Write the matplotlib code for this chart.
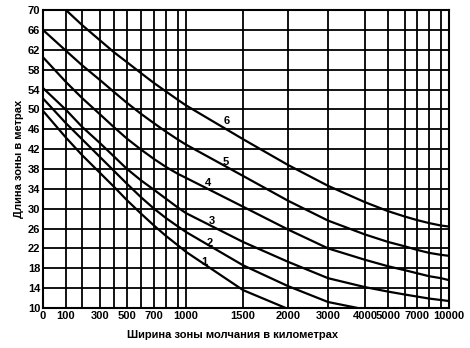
"""
Длина зоны в зависимости от ширины зоны молчания (кривые 1-6).
Неравномерная шкала по оси X как на исходном графике.
"""

import numpy as np
import matplotlib
matplotlib.use("Agg")
import matplotlib.pyplot as plt

plt.rcParams.update({
    "font.family": ["Liberation Sans", "DejaVu Sans"],
    "font.size": 8,
    "font.weight": "bold",
})

# grid values on the x axis (km) and where the original sheet puts them
X_GRID = [0, 100, 200, 300, 400, 500, 600, 700, 800, 900, 1000,
          1500, 2000, 3000, 4000, 5000, 6000, 7000, 8000, 9000, 10000]
X_GRID_POS = [0, 23, 39, 57, 71, 84, 98, 111, 123, 135, 143,
              200, 245, 285, 322, 345, 362, 374, 386, 398, 406]
X_TICKS = [0, 100, 300, 500, 700, 1000, 1500, 2000, 3000, 4000, 5000, 7000, 10000]
Y_TICKS = list(range(10, 71, 4))

# curve readings (km, metres)
km_6 = [100, 200, 300, 400, 500, 600, 700, 800, 900, 1000,
        1500, 2000, 3000, 4000, 5000, 6000, 7000, 8000, 9000, 10000]
len_6 = [70, 67.0, 63.9, 61.5, 59.5, 57.3, 55.3, 53.6, 51.9, 50.8,
         44.0, 38.8, 34.6, 31.3, 29.5, 28.4, 27.7, 27.1, 26.6, 26.4]

km_5 = X_GRID
len_5 = [66, 61.8, 58.9, 55.9, 53.5, 51.3, 49.1, 47.2, 45.5, 43.9, 42.9,
         36.6, 31.6, 27.6, 24.8, 23.3, 22.4, 21.7, 21.1, 20.7, 20.5]

km_4 = X_GRID
len_4 = [60.5, 55.5, 52.3, 49.0, 46.4, 44.1, 41.9, 40.0, 38.4, 37.0, 36.2,
         30.4, 25.8, 22.0, 19.7, 18.4, 17.6, 17.0, 16.4, 16.0, 15.6]

km_3 = X_GRID
len_3 = [54.3, 49.9, 46.5, 43.2, 40.5, 38.0, 35.7, 33.8, 32.0, 30.2, 29.1,
         23.3, 19.3, 16.0, 14.2, 13.3, 12.7, 12.3, 11.9, 11.6, 11.4]

km_2 = [0, 100, 200, 300, 400, 500, 600, 700, 800, 900, 1000,
        1500, 2000, 3000, 4000]
len_2 = [52.2, 47.2, 44.0, 40.4, 37.6, 35.0, 32.3, 30.0, 28.1, 26.4, 25.3,
         18.6, 14.4, 11.2, 9.7]

km_1 = [0, 100, 200, 300, 400, 500, 600, 700, 800, 900, 1000, 1500, 2000]
len_1 = [49.7, 44.3, 40.8, 37.2, 34.4, 31.7, 29.0, 26.6, 24.5, 22.6, 21.3,
         13.6, 9.8]

CURVES = [("1", km_1, len_1), ("2", km_2, len_2), ("3", km_3, len_3),
          ("4", km_4, len_4), ("5", km_5, len_5), ("6", km_6, len_6)]

# where the curve numbers sit (km, metres)
LABEL_AT = {"6": (1360, 47.6), "5": (1350, 39.4), "4": (1190, 35.2),
            "3": (1225, 27.5), "2": (1210, 23.1), "1": (1160, 19.2)}


def fwd(x):
    return np.interp(x, X_GRID, X_GRID_POS)


def inv(p):
    return np.interp(p, X_GRID_POS, X_GRID)


def plot():
    fig = plt.figure(figsize=(4.7, 3.48), dpi=100)
    ax = fig.add_axes([0.0915, 0.115, 0.864, 0.856])
    ax.set_xscale("function", functions=(fwd, inv))
    ax.set_xlim(0, 10000)
    ax.set_ylim(10, 70)

    for x in X_GRID:
        ax.axvline(x, color="black", linewidth=1.3, zorder=1)
    for y in Y_TICKS:
        ax.axhline(y, color="black", linewidth=1.3, zorder=1)

    for name, xs, ys in CURVES:
        ax.plot(xs, ys, color="black", linewidth=1.6, zorder=3,
                solid_joinstyle="round")
        tx, ty = LABEL_AT[name]
        ax.text(tx, ty, name, ha="center", va="center", fontsize=8,
                fontweight="bold", zorder=4)

    ax.set_xticks(X_TICKS)
    ax.set_xticklabels([str(v) for v in X_TICKS])
    ax.set_yticks(Y_TICKS)
    ax.tick_params(length=0, pad=2, labelsize=8)
    for s in ax.spines.values():
        s.set_linewidth(1.5)

    ax.set_xlabel("Ширина зоны молчания в километрах", fontsize=8,
                  fontweight="bold")
    ax.xaxis.set_label_coords(0.466, -0.09)
    ax.xaxis.label.set_va("center")
    ax.set_ylabel("Длина зоны в метрах", fontsize=8, fontweight="bold",
                  labelpad=3)

    fig.savefig("out.png", dpi=100)


if __name__ == "__main__":
    plot()
